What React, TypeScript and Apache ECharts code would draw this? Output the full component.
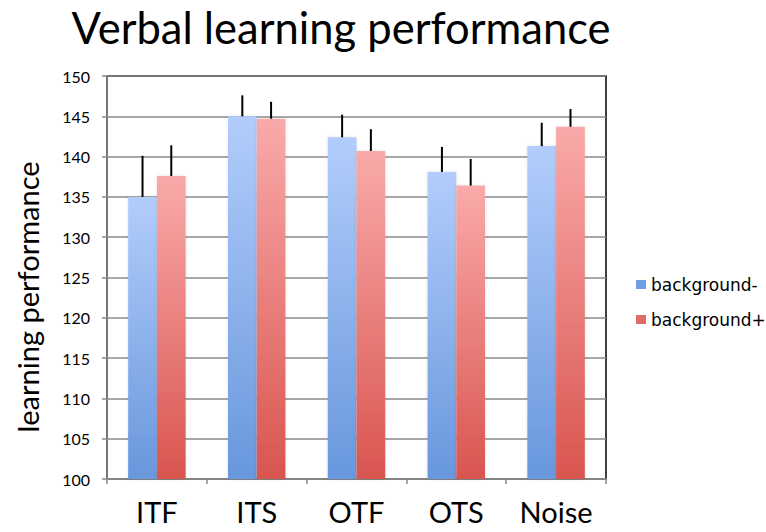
import React, { useEffect, useRef } from "react";
import * as echarts from "echarts";

const categories = ["ITF", "ITS", "OTF", "OTS", "Noise"];
const seriesNames = ["background-", "background+"];
const bgMinus = [135.0, 145.0, 142.4, 138.1, 141.3];
const bgPlus = [137.6, 144.7, 140.7, 136.4, 143.7];
const errMinus = [5.1, 2.6, 2.8, 3.1, 2.9];
const errPlus = [3.8, 2.1, 2.7, 3.3, 2.2];
const yMin = 100;
const yMax = 150;
const yStep = 5;
const titleText = "Verbal learning performance";
const yAxisTitle = "learning performance";

const BAR_FRAC = 0.288;

function grad(top: string, bottom: string) {
  return new echarts.graphic.LinearGradient(0, 0, 0, 1, [
    { offset: 0, color: top },
    { offset: 1, color: bottom },
  ]);
}

export default function App() {
  const ref = useRef<HTMLDivElement>(null);
  useEffect(() => {
    if (!ref.current) return;
    const chart = echarts.init(ref.current, undefined, { renderer: "svg" });
    const errSeries = (vals: number[], errs: number[], side: number) => ({
      type: "custom",
      silent: true,
      z: 5,
      data: vals.map((v, i) => [i, v, v + errs[i]]),
      renderItem: (params: any, api: any) => {
        const i = api.value(0);
        const p0 = api.coord([i, api.value(1)]);
        const p1 = api.coord([i, api.value(2)]);
        const band = api.size([1, 0])[0];
        const x = p0[0] + side * band * BAR_FRAC * 0.5;
        return {
          type: "line",
          shape: { x1: x, y1: p0[1], x2: x, y2: p1[1] },
          style: { stroke: "#000", lineWidth: 2 },
        };
      },
    });
    chart.setOption({
      animation: false,
      backgroundColor: "#fff",
      title: {
        text: titleText,
        left: 336,
        textAlign: "center",
        top: 0,
        textStyle: {
          fontFamily: "Lato",
          fontWeight: "normal",
          fontSize: 43.5,
          color: "#000",
        },
      },
      graphic: [
        {
          type: "text",
          x: 27,
          y: 297,
          rotation: Math.PI / 2,
          style: {
            text: yAxisTitle,
            fontFamily: "Lato",
            fontSize: 29,
            fill: "#000",
            align: "center",
            verticalAlign: "middle",
          },
        },
      ],
      legend: {
        orient: "vertical",
        left: 631,
        top: 271,
        itemWidth: 10,
        itemHeight: 9,
        itemGap: 18,
        icon: "rect",
        textStyle: { fontFamily: "DejaVu Sans", fontSize: 17, color: "#000" },
        data: [
          { name: seriesNames[0], itemStyle: { color: "#6f9ee6" } },
          { name: seriesNames[1], itemStyle: { color: "#e06b68" } },
        ],
      },
      grid: {
        left: 107,
        top: 76,
        right: 160,
        bottom: 53,
        show: true,
        borderColor: "#000",
        borderWidth: 1.5,
        backgroundColor: "transparent",
      },
      xAxis: {
        type: "category",
        data: categories,
        axisLine: { lineStyle: { color: "#8a8a8a", width: 1.5 } },
        axisTick: { show: true, length: 5, lineStyle: { color: "#8a8a8a", width: 1.5 } },
        axisLabel: {
          fontFamily: "Lato",
          fontSize: 29,
          color: "#000",
          margin: 18,
        },
      },
      yAxis: {
        type: "value",
        min: yMin,
        max: yMax,
        interval: yStep,
        axisLine: { show: true, lineStyle: { color: "#8a8a8a", width: 1.5 } },
        axisTick: { show: true, length: 5, lineStyle: { color: "#8a8a8a", width: 1.5 } },
        axisLabel: { fontFamily: "Lato", fontSize: 16, color: "#000", margin: 17 },
        splitLine: { lineStyle: { color: "#8a8a8a", width: 1.5 } },
      },
      series: [
        {
          name: seriesNames[0],
          type: "bar",
          data: bgMinus,
          barWidth: (BAR_FRAC * 100).toFixed(1) + "%",
          barGap: "0%",
          itemStyle: {
            color: grad("#b2cdfb", "#6897dd"),
            shadowBlur: 3,
            shadowColor: "rgba(0,0,0,0.12)",
          },
        },
        {
          name: seriesNames[1],
          type: "bar",
          data: bgPlus,
          barWidth: (BAR_FRAC * 100).toFixed(1) + "%",
          barGap: "0%",
          itemStyle: {
            color: grad("#f9aaaa", "#d9554f"),
            shadowBlur: 3,
            shadowColor: "rgba(0,0,0,0.12)",
          },
        },
        errSeries(bgMinus, errMinus, -1),
        errSeries(bgPlus, errPlus, 1),
      ],
    });
    return () => chart.dispose();
  }, []);
  return <div ref={ref} style={{ width: 766, height: 532, position: "absolute", left: 0, top: 0 }} />;
}
